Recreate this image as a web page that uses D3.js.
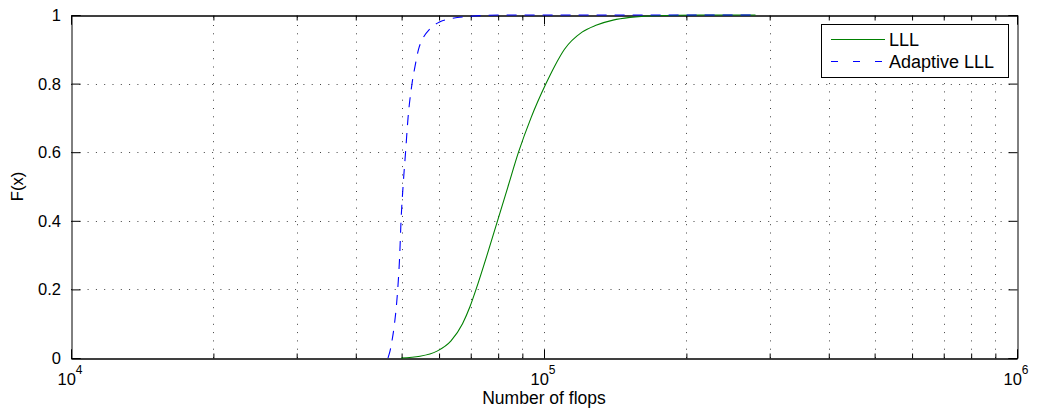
<!DOCTYPE html>
<html><head><meta charset="utf-8">
<script src="https://cdn.jsdelivr.net/npm/d3@7"></script>
<style>body{margin:0;background:#fff}svg{display:block}text{font-family:"Liberation Sans",Arial,sans-serif;fill:#000}</style>
</head><body><svg id="c" width="1039" height="418"></svg>
<script>
// ---- data ----
const seriesNames = ["LLL", "Adaptive LLL"];
const lllFlops = [49860, 54680, 59400, 63590, 67260, 69760, 71830, 75780, 79750, 83930, 88330, 93870, 100980, 105250, 110490, 120340, 128800, 139940, 151990, 171700, 213700, 280000];
const lllF     = [0, 0.005, 0.02, 0.05, 0.1, 0.15, 0.2, 0.3, 0.4, 0.5, 0.6, 0.7, 0.8, 0.85, 0.9, 0.95, 0.97, 0.985, 0.993, 0.998, 1, 1];
const adaFlops = [46790, 47250, 47710, 48300, 49060, 49540, 49860, 50350, 50970, 51590, 52600, 53370, 54290, 55360, 57420, 60280, 63900, 69760, 80720, 280000];
const adaF     = [0, 0.02, 0.05, 0.1, 0.2, 0.3, 0.4, 0.5, 0.6, 0.7, 0.8, 0.85, 0.9, 0.93, 0.96, 0.98, 0.99, 0.996, 1, 1];
const xMajorTicks = [1e4, 1e5, 1e6];
const xMajorExp = ["4", "5", "6"];
const xMinorTicks = [2e4,3e4,4e4,5e4,6e4,7e4,8e4,9e4,2e5,3e5,4e5,5e5,6e5,7e5,8e5,9e5];
const yTicks = [0, 0.2, 0.4, 0.6, 0.8, 1];
const yTickLabels = ["0", "0.2", "0.4", "0.6", "0.8", "1"];
const xLabel = "Number of flops";
const yLabel = "F(x)";

// ---- layout ----
const L = 71, R = 1017, T = 15, B = 358;
const svg = d3.select("#c");
const x = d3.scaleLog().domain([1e4, 1e6]).range([L, R]);
const y = d3.scaleLinear().domain([0, 1]).range([B, T]);

// grid
const grid = svg.append("g").attr("stroke", "#000").attr("stroke-width", 1)
  .attr("stroke-dasharray", "1,7.3").attr("stroke-opacity", 0.75);
xMinorTicks.concat([1e5]).forEach(v => {
  grid.append("line").attr("x1", Math.round(x(v)) + 0.5).attr("x2", Math.round(x(v)) + 0.5)
    .attr("y1", B).attr("y2", T);
});
yTicks.filter(v => v > 0 && v < 1).forEach(v => {
  grid.append("line").attr("y1", Math.round(y(v)) + 0.5).attr("y2", Math.round(y(v)) + 0.5)
    .attr("x1", L).attr("x2", R);
});

// axes with inward ticks
const axB = svg.append("g").attr("transform", `translate(0,${B + 0.5})`)
  .call(d3.axisBottom(x).tickValues(xMajorTicks).tickSize(-9).tickFormat(""));
const axBm = svg.append("g").attr("transform", `translate(0,${B + 0.5})`)
  .call(d3.axisBottom(x).tickValues(xMinorTicks).tickSize(-5).tickFormat(""));
const axT = svg.append("g").attr("transform", `translate(0,${T + 0.5})`)
  .call(d3.axisTop(x).tickValues(xMajorTicks).tickSize(-9).tickFormat(""));
const axTm = svg.append("g").attr("transform", `translate(0,${T + 0.5})`)
  .call(d3.axisTop(x).tickValues(xMinorTicks).tickSize(-5).tickFormat(""));
const axL = svg.append("g").attr("transform", `translate(${L + 0.5},0)`)
  .call(d3.axisLeft(y).tickValues(yTicks).tickSize(-9).tickFormat(""));
const axR = svg.append("g").attr("transform", `translate(${R + 0.5},0)`)
  .call(d3.axisRight(y).tickValues(yTicks).tickSize(-9).tickFormat(""));
[axB, axBm, axT, axTm, axL, axR].forEach(g => {
  g.select(".domain").attr("stroke", "#000").attr("stroke-width", 1);
  g.selectAll(".tick line").attr("stroke", "#000");
});

// tick labels
yTicks.forEach((v, i) => {
  svg.append("text").attr("x", L - 10).attr("y", y(v) + 6)
    .attr("text-anchor", "end").attr("font-size", 16.5).text(yTickLabels[i]);
});
xMajorTicks.forEach((v, i) => {
  const t = svg.append("text").attr("x", x(v) - 1).attr("y", 385)
    .attr("text-anchor", "middle").attr("font-size", 16.5);
  t.append("tspan").text("10");
  t.append("tspan").attr("dy", -11).attr("font-size", 12).text(xMajorExp[i]);
});

// axis titles
svg.append("text").attr("x", (L + R) / 2).attr("y", 404).attr("text-anchor", "middle")
  .attr("font-size", 17.5).text(xLabel);
svg.append("text").attr("transform", `translate(23,${(T + B) / 2}) rotate(-90)`)
  .attr("text-anchor", "middle").attr("font-size", 16.5).text(yLabel);

// lines
const line = d3.line().x(d => x(d[0])).y(d => y(d[1])).curve(d3.curveMonotoneX);
svg.append("path").datum(d3.zip(lllFlops, lllF)).attr("d", line)
  .attr("fill", "none").attr("stroke", "#008000").attr("stroke-width", 1.1);
svg.append("path").datum(d3.zip(adaFlops, adaF)).attr("d", line)
  .attr("fill", "none").attr("stroke", "#0000ff").attr("stroke-width", 1.1)
  .attr("stroke-dasharray", "10,8");

// legend
const lg = svg.append("g");
lg.append("rect").attr("x", 821.5).attr("y", 24.5).attr("width", 187).attr("height", 53)
  .attr("fill", "#fff").attr("stroke", "#000").attr("stroke-width", 1);
const colors = ["#008000", "#0000ff"], dashes = [null, "7,15"];
seriesNames.forEach((n, i) => {
  const yy = 39.5 + i * 22;
  lg.append("line").attr("x1", 831).attr("x2", 885).attr("y1", yy).attr("y2", yy)
    .attr("stroke", colors[i]).attr("stroke-width", 1.1).attr("stroke-dasharray", dashes[i]);
  lg.append("text").attr("x", 889).attr("y", yy + 6.5).attr("font-size", 18).text(n);
});
</script></body></html>
